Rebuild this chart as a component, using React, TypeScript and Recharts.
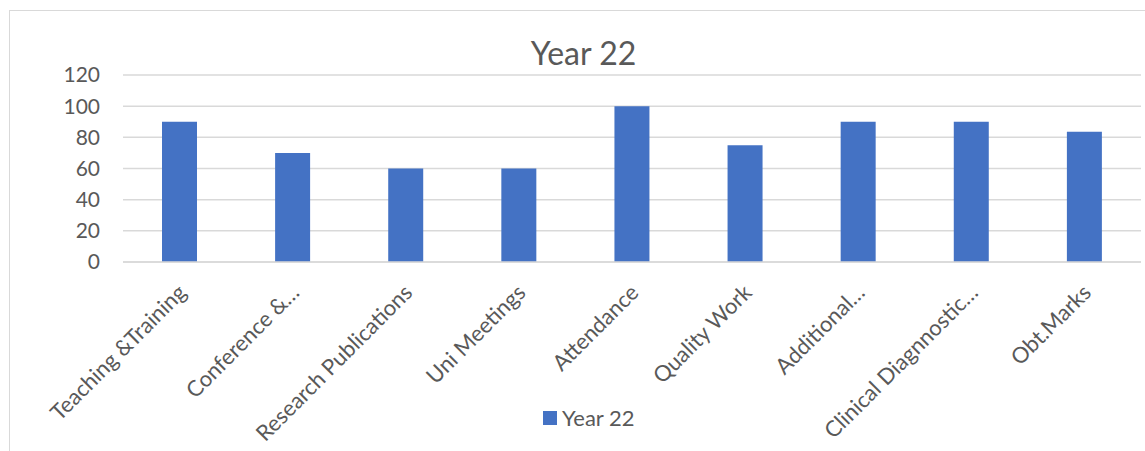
import { BarChart, Bar, XAxis, YAxis, CartesianGrid, Legend } from "recharts";

const categories = [
  "Teaching &Training",
  "Conference &…",
  "Research Publications",
  "Uni Meetings",
  "Attendance",
  "Quality Work",
  "Additional…",
  "Clinical Diagnnostic…",
  "Obt.Marks",
];
const year22 = [90, 70, 60, 60, 100, 75, 90, 90, 83.6];
const yTicks = [0, 20, 40, 60, 80, 100, 120];

const data = categories.map((name, i) => ({ name, year22: year22[i] }));

const FONT = "Lato, 'Noto Sans', sans-serif";
const TEXT = "#595959";
const BLUE = "#4472C4";

// rotated labels, like Excel does it
function SlantTick(props: any) {
  const { x, y, payload } = props;
  const ax = x + 8;
  const ay = y + 24;
  return (
    <text
      x={ax}
      y={ay}
      transform={`rotate(-45, ${ax}, ${ay})`}
      textAnchor="end"
      fill={TEXT}
      fontSize={22}
      fontFamily={FONT}
    >
      {payload.value}
    </text>
  );
}

function LegendBox() {
  return (
    <div
      style={{
        height: 30,
        display: "flex",
        alignItems: "center",
        paddingLeft: 543,
        fontFamily: FONT,
        fontSize: 22,
        color: TEXT,
        lineHeight: "30px",
      }}
    >
      <span style={{ width: 14, height: 14, background: BLUE, marginRight: 5 }} />
      <span>Year 22</span>
    </div>
  );
}

export default function App() {
  return (
    <div
      style={{
        position: "absolute",
        left: 0,
        top: 0,
        width: 1145,
        height: 451,
        overflow: "hidden",
        background: "#fff",
      }}
    >
      <div
        style={{
          position: "absolute",
          left: 9,
          top: 10,
          width: 1160,
          height: 470,
          border: "1.5px solid #d9d9d9",
        }}
      />
      <div
        style={{
          position: "absolute",
          left: 283.5,
          top: 36.5,
          width: 600,
          textAlign: "center",
          fontFamily: FONT,
          fontSize: 32,
          lineHeight: "32px",
          color: TEXT,
        }}
      >
        Year 22
      </div>
      <BarChart
        width={1145}
        height={451}
        data={data}
        margin={{ top: 75, right: 4, left: 0, bottom: 18 }}
      >
        <CartesianGrid vertical={false} stroke="#d9d9d9" strokeWidth={1.5} />
        <XAxis
          dataKey="name"
          interval={0}
          height={141}
          tickLine={false}
          axisLine={{ stroke: "#d9d9d9", strokeWidth: 1.5 }}
          tick={<SlantTick />}
        />
        <YAxis
          domain={[0, 120]}
          ticks={yTicks}
          width={123}
          tickLine={false}
          axisLine={false}
          tickMargin={17}
          tick={{ fill: TEXT, fontSize: 21, fontFamily: FONT }}
        />
        <Legend verticalAlign="bottom" height={30} content={<LegendBox />} />
        <Bar dataKey="year22" name="Year 22" fill={BLUE} barSize={35} isAnimationActive={false} />
      </BarChart>
    </div>
  );
}
